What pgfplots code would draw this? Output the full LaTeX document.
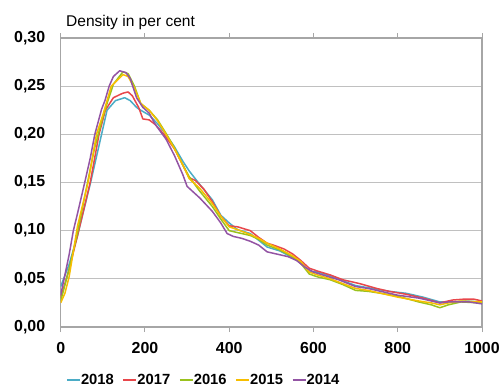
\documentclass[border=0pt]{standalone}
\usepackage{fontspec}
\setmainfont{Liberation Sans}
\usepackage{pgfplots}
\pgfplotsset{compat=1.18}
\definecolor{c18}{HTML}{4BACC6}
\definecolor{c17}{HTML}{E8474B}
\definecolor{c16}{HTML}{9AC21E}
\definecolor{c15}{HTML}{F7BE00}
\definecolor{c14}{HTML}{9354A4}
\definecolor{gridc}{HTML}{C0C0C0}
\definecolor{axc}{HTML}{A6A6A6}
\begin{document}
\begin{tikzpicture}
\useasboundingbox (-60.7bp,-62bp) rectangle (442.3bp,327bp);
\begin{axis}[
  name=ax,
  scale only axis,
  width=421.3bp, height=289bp,
  xmin=0, xmax=1000, ymin=0, ymax=0.30,
  xtick={0,200,400,600,800,1000},
  ytick={0,0.05,0.10,0.15,0.20,0.25,0.30},
  ymajorgrids,
  grid style={gridc, line width=1.2bp},
  axis line style={axc, line width=1.2bp},
  tick align=outside,
  xtick style={axc, line width=1bp},
  ytick style={draw=none},
  major tick length=5bp,
  x tick label style={font=\fontsize{16}{19}\selectfont\bfseries, yshift=-7bp},
  y tick label style={font=\fontsize{16}{19}\selectfont\bfseries, xshift=-7bp},
  /pgf/number format/assume math mode=true,
  yticklabel={\pgfmathprintnumber[fixed,fixed zerofill,precision=2,use comma,assume math mode=true]{\tick}},
  xticklabel={\pgfmathprintnumber[fixed,precision=0,assume math mode=true,1000 sep={}]{\tick}},
  scaled y ticks=false,
  legend columns=5,
  legend style={at={(0.0126,-0.183)}, anchor=west, draw=none, fill=none,
    inner sep=0pt, font=\fontsize{14.8}{17}\selectfont\bfseries,
    nodes={inner sep=0.3bp},
    /tikz/every even column/.append style={column sep=8.5bp}},
  legend image code/.code={\draw[#1, line width=1.5bp] (0bp,0bp) -- (13bp,0bp);},
  every axis plot/.append style={line width=1.5bp, line join=round},
]
\addlegendimage{color=c18}
\addlegendentry{2018}
\addlegendimage{color=c17}
\addlegendentry{2017}
\addlegendimage{color=c16}
\addlegendentry{2016}
\addlegendimage{color=c15}
\addlegendentry{2015}
\addlegendimage{color=c14}
\addlegendentry{2014}
\addplot[c18, forget plot] coordinates {
(0,0.042) (20,0.065) (40,0.095) (71,0.150) (97,0.200) (110,0.225) (130,0.235) (152,0.238) (165,0.235) (180,0.228) (190,0.225) (210,0.220) (230,0.211) (250,0.200) (270,0.187) (290,0.172) (305,0.162) (330,0.148) (360,0.132) (380,0.116) (400,0.108) (420,0.101) (450,0.097) (470,0.090) (490,0.083) (520,0.079) (550,0.072) (570,0.067) (590,0.058) (610,0.057) (640,0.053) (670,0.048) (700,0.043) (740,0.040) (780,0.037) (820,0.035) (860,0.031) (900,0.026) (930,0.026) (960,0.027) (1000,0.026)
};
\addplot[c17, forget plot] coordinates {
(0,0.030) (20,0.060) (40,0.095) (70,0.150) (91,0.200) (106,0.225) (125,0.238) (144,0.242) (150,0.243) (160,0.244) (170,0.240) (185,0.228) (195,0.216) (210,0.215) (225,0.210) (245,0.200) (270,0.185) (290,0.168) (305,0.155) (320,0.152) (340,0.143) (360,0.130) (380,0.115) (400,0.105) (420,0.104) (450,0.100) (470,0.093) (490,0.087) (505,0.085) (530,0.081) (550,0.076) (570,0.069) (590,0.061) (610,0.058) (640,0.054) (670,0.049) (690,0.047) (710,0.045) (750,0.040) (780,0.037) (820,0.034) (860,0.030) (900,0.025) (930,0.028) (960,0.029) (980,0.029) (1000,0.027)
};
\addplot[c16, forget plot] coordinates {
(0,0.027) (20,0.060) (40,0.098) (60,0.142) (80,0.185) (100,0.218) (110,0.232) (125,0.252) (148,0.265) (160,0.263) (175,0.250) (190,0.232) (210,0.225) (230,0.215) (250,0.201) (270,0.186) (290,0.168) (305,0.156) (330,0.141) (360,0.125) (380,0.112) (400,0.100) (420,0.098) (450,0.095) (470,0.091) (490,0.085) (520,0.080) (550,0.073) (570,0.066) (590,0.055) (610,0.052) (640,0.049) (670,0.044) (700,0.038) (730,0.037) (760,0.035) (800,0.032) (850,0.026) (880,0.023) (900,0.020) (920,0.023) (950,0.026) (1000,0.025)
};
\addplot[c15, forget plot] coordinates {
(0,0.025) (10,0.035) (20,0.052) (40,0.105) (65,0.150) (85,0.200) (100,0.220) (120,0.250) (148,0.262) (160,0.260) (175,0.248) (190,0.232) (210,0.225) (230,0.214) (250,0.200) (270,0.185) (290,0.168) (305,0.154) (330,0.144) (360,0.128) (380,0.115) (400,0.104) (420,0.101) (450,0.096) (470,0.092) (490,0.087) (520,0.081) (550,0.074) (570,0.068) (590,0.057) (610,0.054) (640,0.050) (670,0.045) (700,0.040) (730,0.038) (760,0.035) (800,0.031) (850,0.027) (880,0.025) (900,0.023) (920,0.025) (950,0.027) (1000,0.026)
};
\addplot[c14, forget plot] coordinates {
(0,0.033) (20,0.075) (30,0.100) (40,0.118) (57,0.150) (70,0.175) (81,0.200) (97,0.226) (105,0.235) (115,0.250) (125,0.260) (140,0.266) (155,0.264) (165,0.258) (180,0.238) (195,0.228) (210,0.222) (225,0.210) (250,0.195) (270,0.178) (290,0.158) (300,0.146) (330,0.134) (360,0.120) (380,0.108) (395,0.097) (410,0.094) (430,0.092) (450,0.089) (470,0.085) (490,0.078) (510,0.076) (540,0.073) (560,0.069) (580,0.062) (600,0.057) (630,0.053) (660,0.049) (700,0.042) (730,0.040) (760,0.037) (800,0.033) (850,0.030) (880,0.027) (900,0.025) (920,0.026) (950,0.026) (970,0.026) (1000,0.024)
};
\end{axis}
\node[anchor=base west, inner sep=0pt, font=\fontsize{15.6}{18}\selectfont] at ([xshift=5.3bp,yshift=12bp]ax.north west) {Density in per cent};
\end{tikzpicture}
\end{document}
